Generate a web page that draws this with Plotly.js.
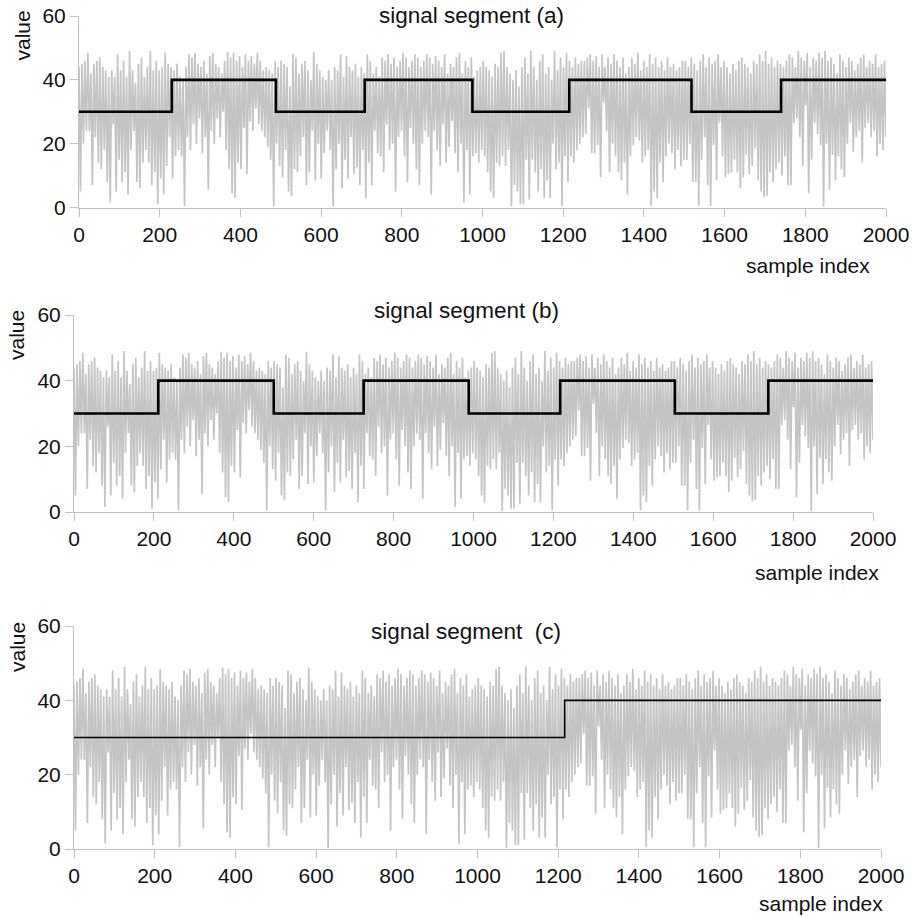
<!DOCTYPE html>
<html>
<head>
<meta charset="utf-8">
<script src="https://cdn.plot.ly/plotly-3.0.1.min.js"></script>
<style>
  html, body { margin: 0; padding: 0; background: #fff; }
  #chart { width: 915px; height: 917px; }
</style>
</head>
<body>
<div id="chart"></div>
<script>
// Upper / lower excursions of the noisy signal (left to right)
const signalHi = [
  44,45,46,48.5,42,45,46,47,44,43,41,43,41,48,43,46,41,49,43,39,45,47,41,44,49,43,46,43,44,48.5,45,44,43,45,
  41,40,44,48,47,48.5,45,44,46,42,47.5,48.5,45,44,42,46,48.8,47,48.5,46,47.5,44,48,46,47.5,45,48.5,46,43,44,43,42,46,44,
  46,45,44,38,48,47,42,45,46,43,40,48.8,45,43,41,40,43,40,44,43,48,41,47.5,44,43,45,41,44,42,48,46,42,44,41,
  47,46,48,45,47,44,46,48.5,47,44,46,48,47,44,46,48,47,45,47.5,46,44,48,42,45,44,47,48.5,42,46,44,47,41,43,44,
  46,44,43,41,45,44,48.5,49,44,42,40,43,38,44,47,42,49,44,40,46,48,42,44,40,49,43,47,44,48.5,46,44,47,45,46,
  46,47,48,46,47.5,44,48,44,47,45,48,46,44,47,42,44,47,45,48.5,43,46,44,48,45,47,44,46,43,47,44,45,43,44,46,
  46,44,47,45,43,46,48,44,47,45,46,48,44,46,44,42,45,43,46,47,45,44,42,46,45,48,46,49,45,47,44,46,45,44,
  46,48,47,44,49,47,46,48.5,44,47,46,48.5,47,49,46,47,45,42,48,46,44,47,46,43,45,47,48,44,46,45,48,44,45,46
];
const signalLo = [
  5,20,24,24,7,22,14,12,18,8,1.5,26,5,15,8,11,4,18,24,8,6,14,18,14,7,11,1,9,4,13,22,9,16,18,
  16,0.5,22,18,26,20,28,17,22,5.5,24,20,28,22,30,18,12,4.5,3,14,12,25,10.5,27,24,31,26,24,22,19,15,0.5,20,13,
  9.5,18,5,3.5,12,11,16,22,7,11,24,8.5,20,9,17,24,18,0.3,12,20,6,15,9,22,10.5,12.5,7,18,3,14,7,24,17,16,
  11,26,18,20,5,22,24,16,8,25,20,12,7,20,24,22,4,24,18,13,26,14,19,27,17,11,20,1.5,18,4,16,17,14,18,
  16,11,5,3,14,13,16,13,18,0.3,7,5,1,1,15,2.5,15,11,5,12,3,8.5,3,20,12,14,0.5,16,8,16,14,18,20,22,
  23,31,17,17,19.5,9.5,33,24,11,20,16,11,8.5,14,4,16,19.5,22,21,14,16,18,0.5,5,3,14,8,16,20,17,12,18,13,15,
  15,20,8,8,0.5,15,22,7,0.5,19.5,8.5,26.5,16,9.5,10.5,11,15,11,6,9.5,16.5,10.5,13,18.5,8.5,5,3.3,3.7,11,8,12,14,10,16,
  7,7,26.5,28,22,13,32,4.5,15,26.5,23,19.5,0.3,20,5.5,16.5,8.5,16,12,9.5,20,26.5,17.5,22,24,14,25,26.5,22,24,16,20,18,22
];

// Step (segment mean) breakpoints for each panel
const stepAx = [0, 230, 488, 708, 975, 1215, 1518, 1740, 2000];
const stepAy = [30, 40, 30, 40, 30, 40, 30, 40, 40];
const stepBx = [0, 211, 500, 725, 988, 1217, 1504, 1738, 2000];
const stepBy = [30, 40, 30, 40, 30, 40, 30, 40, 40];
const stepCx = [0, 1216, 2000];
const stepCy = [30, 40, 40];

const xTicks = [0, 200, 400, 600, 800, 1000, 1200, 1400, 1600, 1800, 2000];
const yTicks = [0, 20, 40, 60];
const panelTitles = ['signal segment (a)', 'signal segment (b)', 'signal segment  (c)'];

// interleave the excursions into one trace
const nPts = signalHi.length * 2;
const sigX = [], sigY = [];
for (let i = 0; i < signalHi.length; i++) {
  sigX.push((2 * i) * 2000 / (nPts - 1)); sigY.push(signalHi[i]);
  sigX.push((2 * i + 1) * 2000 / (nPts - 1)); sigY.push(signalLo[i]);
}

const W = 915, H = 917;
const FONT = 'Liberation Sans, Arial, sans-serif';
const TXT = '#111';
const gray = '#c4c4c4';

const panels = [
  {x0: 79, x1: 886, yTop: 16, yBot: 207.5, sx: stepAx, sy: stepAy, lw: 2.6,
   title: [472, 15], value: [21.5, 36], sidx: [872, 265]},
  {x0: 74, x1: 873, yTop: 315, yBot: 512, sx: stepBx, sy: stepBy, lw: 2.6,
   title: [466, 310], value: [17, 335], sidx: [881, 572]},
  {x0: 74, x1: 881, yTop: 626, yBot: 849, sx: stepCx, sy: stepCy, lw: 1.6,
   title: [466, 631], value: [17, 647], sidx: [885, 903]}
];

const data = [];
const layout = {
  width: W, height: H,
  margin: {l: 0, r: 0, t: 0, b: 0},
  paper_bgcolor: '#fff', plot_bgcolor: '#fff',
  showlegend: false,
  font: {family: FONT, size: 21, color: TXT},
  annotations: []
};

panels.forEach((p, i) => {
  const n = i === 0 ? '' : String(i + 1);
  data.push({x: sigX, y: sigY, xaxis: 'x' + n, yaxis: 'y' + n, type: 'scatter', mode: 'lines',
             line: {color: gray, width: 1.7}, hoverinfo: 'skip'});
  data.push({x: p.sx, y: p.sy, xaxis: 'x' + n, yaxis: 'y' + n, type: 'scatter', mode: 'lines',
             line: {color: '#000', width: p.lw, shape: 'hv'}, hoverinfo: 'skip'});
  const axCommon = {showgrid: false, zeroline: false, showline: true, linecolor: '#c0c0c0', linewidth: 1,
                    ticks: 'outside', ticklen: 8, tickcolor: '#c0c0c0', tickwidth: 1,
                    tickfont: {family: FONT, size: 21, color: TXT}, fixedrange: true};
  layout['xaxis' + n] = Object.assign({}, axCommon, {
    domain: [p.x0 / W, p.x1 / W], range: [0, 2000], anchor: 'y' + n,
    tickmode: 'array', tickvals: xTicks, ticktext: xTicks.map(String)});
  layout['yaxis' + n] = Object.assign({}, axCommon, {
    domain: [1 - p.yBot / H, 1 - p.yTop / H], range: [0, 60], anchor: 'x' + n,
    tickmode: 'array', tickvals: yTicks, ticktext: yTicks.map(String)});
  layout.annotations.push({text: panelTitles[i], xref: 'paper', yref: 'paper',
    x: p.title[0] / W, y: 1 - p.title[1] / H, xanchor: 'center', yanchor: 'middle',
    showarrow: false, font: {family: FONT, size: 22.5, color: TXT}});
  layout.annotations.push({text: 'value', xref: 'paper', yref: 'paper', textangle: -90,
    x: p.value[0] / W, y: 1 - p.value[1] / H, xanchor: 'center', yanchor: 'middle',
    showarrow: false, font: {family: FONT, size: 21, color: TXT}});
  layout.annotations.push({text: 'sample index', xref: 'paper', yref: 'paper',
    x: p.sidx[0] / W, y: 1 - p.sidx[1] / H, xanchor: 'right', yanchor: 'middle',
    showarrow: false, font: {family: FONT, size: 21, color: TXT}});
});

Plotly.newPlot('chart', data, layout, {displayModeBar: false, staticPlot: true});
</script>
</body>
</html>
